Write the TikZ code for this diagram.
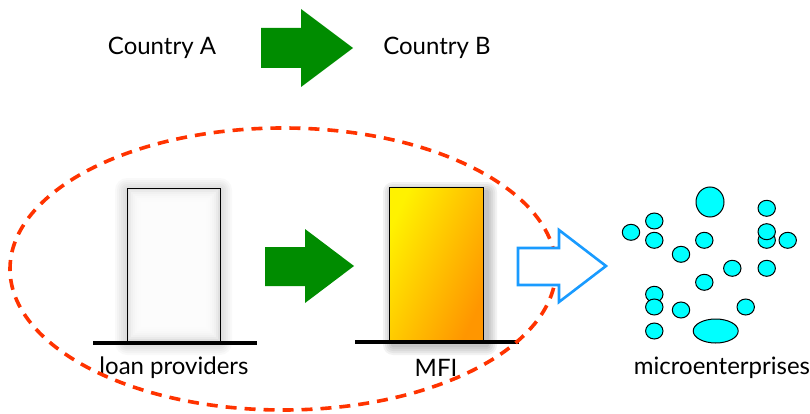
\documentclass[tikz,border=0pt]{standalone}
\usepackage{fontspec}
\setmainfont{Lato}
\definecolor{dotcyan}{RGB}{0,255,255}
\definecolor{arrowgreen}{RGB}{0,140,0}
\definecolor{arrowblue}{RGB}{25,155,255}
\definecolor{dashred}{RGB}{255,51,0}
\begin{document}
\begin{tikzpicture}[x=1pt,y=-1pt,
  lbl/.style={font=\fontsize{24}{28}\selectfont, inner sep=0pt, anchor=center},
  greenarrow/.style={fill=arrowgreen, draw=none},
  bluearrow/.style={draw=arrowblue, line width=2.6pt, fill=white, line join=miter},
  baseline/.style={line width=4pt, black},
  dot/.style={draw=black, line width=1pt, fill=dotcyan},
  redellipse/.style={draw=dashred, line width=3.6pt, dash pattern=on 11pt off 8pt}
]
\useasboundingbox (0,0) rectangle (810,414);

% top texts and arrow
\node[lbl] (ca) at (162,48) {Country A};
\node[lbl] (cb) at (437,48) {Country B};
\path[greenarrow] (261,28) -- (301,28) -- (301,9) -- (353,48) -- (301,87) -- (301,68) -- (261,68) -- cycle;

% loan providers box with soft glow
\foreach \d in {12,10,8,6,4,2}
  \fill[black, opacity=0.025, rounded corners=\d pt] (127-\d,188-\d+2) rectangle (220+\d,341+\d+2);
\fill[black!12] (127,188) rectangle (220,341);
\foreach \d in {2,4,6,8,10,12,14}
  \fill[white, opacity=0.35] (127+\d,188+\d) rectangle (220-\d,341-\d);
\draw[black, line width=1pt] (127,188) rectangle (220,341);
\node[inner sep=0pt, minimum width=93pt, minimum height=153pt] (lp) at (173.5,264.5) {};
\draw[baseline] (93,343) -- (257,343);
\node[lbl] (lpt) at (174,368) {loan providers};

% MFI box with shadow
\foreach \d in {10,8,6,4,2}
  \fill[black, opacity=0.05, rounded corners=\d pt] (389-\d+4,187-\d+5) rectangle (483+\d+4,340+\d+5);
\shade[shading=axis, left color={rgb,255:red,255;green,242;blue,0}, right color={rgb,255:red,255;green,150;blue,0}, shading angle=65] (389,187) rectangle (483,340);
\draw[black, line width=1pt] (389,187) rectangle (483,340);
\node[inner sep=0pt, minimum width=94pt, minimum height=153pt] (mfi) at (436,263.5) {};
\draw[baseline] (355,342) -- (519,342);
\node[lbl] (mfit) at (436,368) {MFI};

% middle green arrow
\path[greenarrow] (265,247) -- (305,247) -- (305,229) -- (354,266) -- (305,303) -- (305,286) -- (265,286) -- cycle;

% dashed ellipse
\draw[redellipse] (283,269) ellipse [x radius=273, y radius=141];

% blue hollow arrow
\draw[bluearrow] (518,248) -- (559,248) -- (559,230) -- (606,266) -- (559,302) -- (559,285) -- (518,285) -- cycle;

% microenterprises
\draw[dot] (710,202) ellipse [x radius=14, y radius=15];
\foreach \x/\y in {766.7/208.3, 654.3/221, 631/232.3, 654.3/240.3, 704.3/240.3,
  766.7/240.3, 766.7/231.7, 787.7/240.3, 681/254.3, 732.3/268.3, 766.7/268.3,
  704.3/282.3, 654.3/294.3, 654.3/307, 681/310, 745.7/307, 654.3/331}
  \draw[dot] (\x,\y) ellipse [x radius=8.7, y radius=8];
\draw[dot] (715.7,331) ellipse [x radius=22.5, y radius=12];
\node[lbl] (met) at (722,368) {microenterprises};
\end{tikzpicture}
\end{document}
